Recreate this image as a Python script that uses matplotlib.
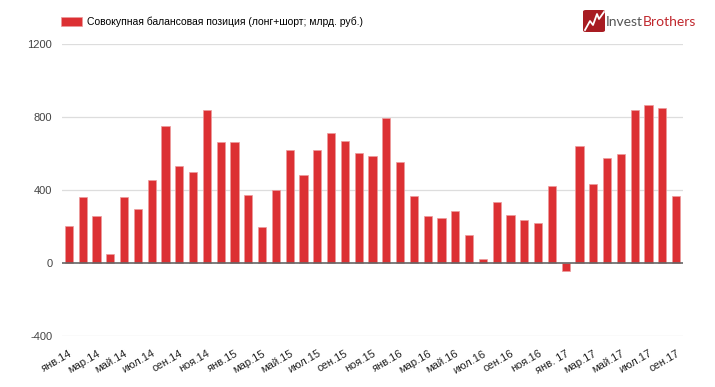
import numpy as np
import matplotlib
matplotlib.use("Agg")
import matplotlib.pyplot as plt
from matplotlib.patches import FancyBboxPatch

# monthly values, Jan 2014 .. Sep 2017
months = ["янв.14", "фев.14", "мар.14", "апр.14", "май.14", "июн.14", "июл.14", "авг.14",
          "сен.14", "окт.14", "ноя.14", "дек.14", "янв.15", "фев.15", "мар.15", "апр.15",
          "май.15", "июн.15", "июл.15", "авг.15", "сен.15", "окт.15", "ноя.15", "дек.15",
          "янв.16", "фев.16", "мар.16", "апр.16", "май.16", "июн.16", "июл.16", "авг.16",
          "сен.16", "окт.16", "ноя.16", "дек.16", "янв. 17", "фев.17", "мар.17", "апр.17",
          "май.17", "июн.17", "июл.17", "авг.17", "сен.17"]
values = [201, 362, 256, 51, 362, 298, 455, 751, 532, 499, 840, 665, 665, 374, 195,
          402, 621, 480, 617, 710, 670, 605, 586, 793, 552, 367, 258, 245, 285, 153,
          20, 334, 261, 236, 217, 424, -44, 639, 431, 577, 597, 840, 864, 851, 367]
yticks = [-400, 0, 400, 800, 1200]
series_name = "Совокупная балансовая позиция (лонг+шорт; млрд. руб.)"

plt.rcParams['font.family'] = ['Liberation Sans', 'DejaVu Sans']

fig = plt.figure(figsize=(7.15, 3.87), dpi=100)
ax = fig.add_axes([62/715, 1-336/387, 621/715, 292/387])

x = np.arange(len(values))
ax.bar(x, values, width=0.6, color='#dc3033', edgecolor='#ec9a9c', linewidth=0.5,
       label=series_name, zorder=3)

ax.set_xlim(-0.5, len(values) - 0.5)
ax.set_ylim(-400, 1200)
ax.set_yticks(yticks)
ax.set_yticklabels([str(v) for v in yticks], fontsize=8, color='#444444')
for v in yticks:
    ax.axhline(v, color='#666666' if v == 0 else '#dddddd',
               linewidth=1.2 if v == 0 else 0.9, zorder=4 if v == 0 else 1)

ax.set_xticks(x[::2])
ax.set_xticklabels(months[::2], rotation=30, ha='right', rotation_mode='anchor',
                   fontsize=8, color='#222222')
ax.tick_params(axis='both', length=0)
ax.tick_params(axis='x', pad=9)
ax.tick_params(axis='y', pad=7)
for s in ax.spines.values():
    s.set_visible(False)

ax.legend(loc='lower left', bbox_to_anchor=(-0.008, 1.043), frameon=False, fontsize=7.5,
          handlelength=2.0, handleheight=0.9, handletextpad=0.45, borderaxespad=0)

# logo
icon = FancyBboxPatch((583/715, 1-32/387), 22/715, 22/387, boxstyle="round,pad=0,rounding_size=0.004",
                      transform=fig.transFigure, facecolor='#a81c22', edgecolor='none')
fig.patches.append(icon)
lx = np.array([585, 590, 593, 597, 599, 604]) / 715
ly = 1 - np.array([30, 21, 25, 14, 19, 12]) / 387
fig.lines.append(plt.Line2D(lx, ly, transform=fig.transFigure, color='white', linewidth=1.3))
t1 = fig.text(606/715, 1-22/387, "Invest", fontsize=10, color='#555555', va='center',
              family='Lato')
fig.canvas.draw()
bb = t1.get_window_extent()
fig.text(bb.x1/715, 1-22/387, "Brothers", fontsize=10, color='#c0272d', va='center',
         family='Lato')

fig.savefig("out.png", dpi=100)
